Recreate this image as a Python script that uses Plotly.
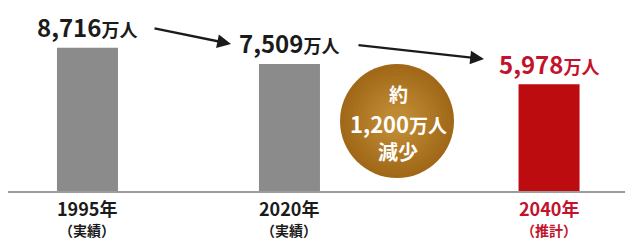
import plotly.graph_objects as go

# ---- data ----
years = ["1995年", "2020年", "2040年"]
notes = ["（実績）", "（実績）", "（推計）"]
population = [8716, 7509, 5978]          # 万人
value_labels = ["8,716", "7,509", "5,978"]
unit = "万人"
decrease_lines = ["約", "1,200", "万人", "減少"]

# ---- layout constants ----
W, H_FIG = 625, 242
B_MARGIN = 50
H = H_FIG - B_MARGIN                     # plot-area height in px
FONT = "Noto Sans CJK JP"
GRAY = "#8b8b8b"
RED_BAR = "#bd0c10"
RED_TXT = "#c3122c"
DARK = "#1b1b1b"

slot_x = [0, 1, 2.285]                   # horizontal slots for the three bars
x_range = [-0.433, 2.661]
y_floor, y_top = -2130, 12318            # truncated axis
bar_colors = [GRAY, GRAY, RED_BAR]
label_colors = [DARK, DARK, RED_TXT]


def px(xp):
    return xp / W


def py(yp):
    return 1 - yp / H


fig = go.Figure()
fig.add_trace(go.Bar(
    x=slot_x,
    y=[v - y_floor for v in population],
    base=y_floor,
    width=0.302,
    marker=dict(color=bar_colors, line=dict(width=0)),
    hoverinfo="skip",
))

ann = []
# value labels above bars
for xs, v, lab, col in zip(slot_x, population, value_labels, label_colors):
    ann.append(dict(
        x=xs, y=v, xref="x", yref="y", yshift=21, yanchor="middle", xanchor="center",
        showarrow=False,
        text=f"<b>{lab}</b><b><span style='font-size:18px'>{unit}</span></b>",
        font=dict(family=FONT, size=24, color=col),
    ))
# category labels below the baseline
for xs, yr, nt, col in zip(slot_x, years, notes, label_colors):
    ann.append(dict(
        x=xs, y=py(208), xref="x", yref="paper", yanchor="middle", xanchor="center",
        showarrow=False, text=f"<b>{yr}</b>",
        font=dict(family=FONT, size=18, color=col),
    ))
    ann.append(dict(
        x=xs, y=py(230), xref="x", yref="paper", yanchor="middle", xanchor="center",
        showarrow=False, text=f"<b>{nt}</b>",
        font=dict(family=FONT, size=14, color=col),
    ))
# arrows between labels
for (sx, sy, ex, ey) in [(153, 28, 231, 44), (357, 45, 484, 59)]:
    ann.append(dict(
        x=px(ex), y=py(ey), xref="paper", yref="paper",
        ax=sx - ex, ay=sy - ey, text="", showarrow=True,
        arrowhead=2, arrowsize=1.15, arrowwidth=2.4, arrowcolor=DARK, standoff=0,
    ))

# circle (soft radial shading) with text
cx, cy, r = 397, 121, 57
shapes = []
edge_rgb, center_rgb = (160, 104, 24), (190, 137, 50)
steps = 12
for i in range(steps):
    t = i / (steps - 1)
    rr = r * (1 - 0.75 * t)
    c = tuple(round(e + (cc - e) * t) for e, cc in zip(edge_rgb, center_rgb))
    shapes.append(dict(type="circle", xref="paper", yref="paper",
                       x0=px(cx - rr), x1=px(cx + rr),
                       y0=py(cy + rr), y1=py(cy - rr),
                       fillcolor=f"rgb({c[0]},{c[1]},{c[2]})",
                       line=dict(width=0), layer="below"))
shapes.append(dict(type="line", xref="paper", yref="paper",
                   x0=px(8), x1=1, y0=0, y1=0, line=dict(color="#9c9c9c", width=2)))

for yy, txt, sz in [
    (94, f"<b>{decrease_lines[0]}</b>", 19),
    (123, f"<b>{decrease_lines[1]}</b><b><span style='font-size:19px'>{decrease_lines[2]}</span></b>", 22),
    (151, f"<b>{decrease_lines[3]}</b>", 20),
]:
    ann.append(dict(x=px(cx + 1), y=py(yy), xref="paper", yref="paper",
                    xanchor="center", yanchor="middle", showarrow=False,
                    text=txt, font=dict(family=FONT, size=sz, color="white")))

fig.update_layout(
    width=W, height=H_FIG,
    margin=dict(l=0, r=0, t=0, b=B_MARGIN, pad=0),
    paper_bgcolor="white", plot_bgcolor="white",
    showlegend=False,
    xaxis=dict(range=x_range, visible=False, fixedrange=True),
    yaxis=dict(range=[y_floor, y_top], visible=False, fixedrange=True),
    annotations=ann, shapes=shapes,
    font=dict(family=FONT),
)

fig.write_html("out.html", config={"displayModeBar": False},
               post_script="document.body.style.margin='0';document.body.style.padding='0';")
